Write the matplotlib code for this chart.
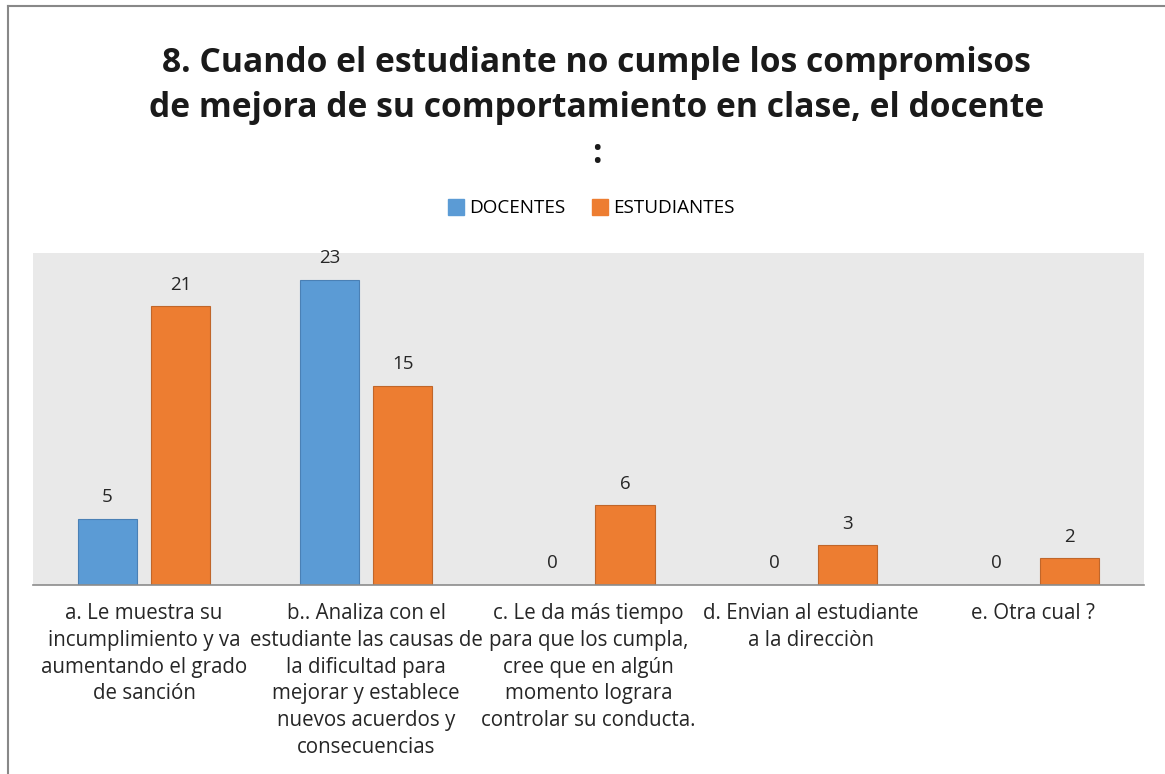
import numpy as np
import matplotlib
matplotlib.use('Agg')
import matplotlib.pyplot as plt
from matplotlib.lines import Line2D

categories = [
    'a. Le muestra su\nincumplimiento y va\naumentando el grado\nde sanción',
    'b.. Analiza con el\nestudiante las causas de\nla dificultad para\nmejorar y establece\nnuevos acuerdos y\nconsecuencias',
    'c. Le da más tiempo\npara que los cumpla,\ncree que en algún\nmomento lograra\ncontrolar su conducta.',
    'd. Envian al estudiante\na la direcciòn',
    'e. Otra cual ?',
]
docentes = [5, 23, 0, 0, 0]
estudiantes = [21, 15, 6, 3, 2]
series_names = ['DOCENTES', 'ESTUDIANTES']
title = ('8. Cuando el estudiante no cumple los compromisos\n'
         'de mejora de su comportamiento en clase, el docente\n:')

BLUE = '#5B9BD5'
ORANGE = '#ED7D31'
FONT = ['Open Sans', 'DejaVu Sans']
plt.rcParams['font.family'] = FONT

fig = plt.figure(figsize=(11.65, 7.74), dpi=100)
ax = fig.add_axes([0.0283, 0.2442, 0.9537, 0.429])
ax.set_facecolor('#e9e9e9')

x = np.arange(len(categories))
w = 0.266
off = (w + 0.063) / 2
b1 = ax.bar(x - off, docentes, w, color=BLUE, edgecolor='#4a80b5', linewidth=0.8)
b2 = ax.bar(x + off, estudiantes, w, color=ORANGE, edgecolor='#c0662a', linewidth=0.8)
for bars in (b1, b2):
    for r in bars:
        h = r.get_height()
        ax.annotate(f'{h:g}', (r.get_x() + r.get_width() / 2, h),
                    xytext=(0, 9), textcoords='offset points',
                    ha='center', va='bottom', fontsize=13.5, color='#262626')

ax.set_xlim(-0.5, len(categories) - 0.5)
ax.set_ylim(0, 25)
ax.set_yticks([])
ax.set_xticks(x)
ax.set_xticklabels(categories, fontsize=14.8, color='#262626', linespacing=1.36)
ax.tick_params(axis='x', length=0, pad=13)
for s in ['top', 'left', 'right']:
    ax.spines[s].set_visible(False)
ax.spines['bottom'].set_color('#8c8c8c')
ax.spines['bottom'].set_linewidth(1.2)

fig.text(0.512, 0.941, title, ha='center', va='top', fontsize=24.2,
         fontweight='bold', color='#1a1a1a', linespacing=1.45)

handles = [Line2D([], [], marker='s', ls='', ms=11, color=c) for c in (BLUE, ORANGE)]
fig.legend(handles, series_names, loc='center', bbox_to_anchor=(0.507, 0.731),
           ncol=2, frameon=False, fontsize=13.6, handletextpad=0.2,
           columnspacing=1.3, handlelength=1.0)

# outer frame (top and left edges visible in the original)
fig.add_artist(Line2D([0.007, 1.0], [0.992, 0.992], transform=fig.transFigure,
                      color='#888888', lw=1.5))
fig.add_artist(Line2D([0.007, 0.007], [0.0, 0.992], transform=fig.transFigure,
                      color='#888888', lw=1.5))

fig.savefig('out.png', dpi=100)
